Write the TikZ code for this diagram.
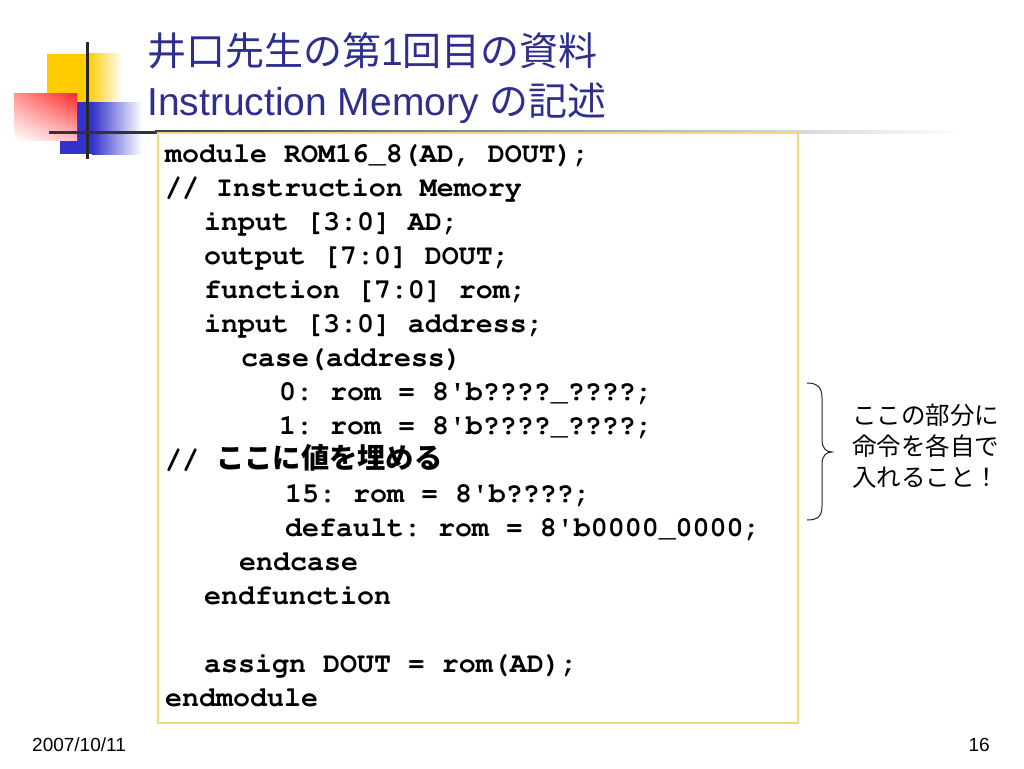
\documentclass[tikz,border=0pt]{standalone}
\usepackage[T1]{fontenc}
\usepackage{fontspec}
\usetikzlibrary{shadings}
\setmainfont{Liberation Sans}
\newfontfamily\jp{Noto Sans CJK JP}
\newcommand\codefont{\fontencoding{T1}\fontfamily{pcr}\fontseries{b}\fontshape{n}\fontsize{28.3}{34}\selectfont\frenchspacing}
\definecolor{titleblue}{RGB}{46,46,143}
\definecolor{decoyellow}{RGB}{255,204,0}
\definecolor{decoblue}{RGB}{51,51,204}
\definecolor{decored}{RGB}{255,40,40}
\definecolor{boxgold}{RGB}{240,218,125}
\tikzset{
  codeline/.style={anchor=base west, inner sep=0pt, font=\codefont},
  titleline/.style={anchor=base west, inner sep=0pt, text=titleblue, font=\fontsize{39}{47}\selectfont},
  noteline/.style={anchor=base west, inner sep=0pt, font=\jp\fontsize{24.5}{31}\selectfont},
  footer/.style={inner sep=0pt, font=\fontsize{19}{22}\selectfont}
}
\begin{document}
\begin{tikzpicture}[x=1pt,y=-1pt]
\useasboundingbox (0,0) rectangle (1024,768);
\fill[white] (0,0) rectangle (1024,768);
% decoration
\fill[decoyellow] (47,54) rectangle (88,102);
\shade[left color=decoyellow, right color=white] (88,54) rectangle (122,102);
\fill[decoblue] (60,102) rectangle (92,154);
\shade[left color=decoblue, right color=white] (92,102) rectangle (142,154);
\shade[upper left=decored!50!white, upper right=decored, lower left=white, lower right=decored!30!white] (14,93) rectangle (77,140);
\fill[black!85] (85.5,42) rectangle (88.5,159);
\fill[black!80] (49,130.5) rectangle (155,133.5);
\shade[left color=black!75, right color=white] (155,130.5) rectangle (965,133.5);
% title
\node[titleline] (t1) at (147,66) {{\jp 井口先生の第}1{\jp 回目の資料}};
\node[titleline] (t2) at (147,115) {Instruction Memory {\jp の記述}};
% code box
\node (box) [draw=boxgold, line width=2pt, fill=white, minimum width=640pt, minimum height=590pt, inner sep=0pt, anchor=north west] at (157,132) {};
\node[codeline] (l1) at (165,162) {module ROM16\_8(AD, DOUT);};
\node[codeline] (l2) at (165,196) {// Instruction Memory};
\node[codeline] (l3) at (204,230) {input [3:0] AD;};
\node[codeline] (l4) at (204,264) {output [7:0] DOUT;};
\node[codeline] (l5) at (204,298) {function [7:0] rom;};
\node[codeline] (l6) at (204,332) {input [3:0] address;};
\node[codeline] (l7) at (241,366) {case(address)};
\node[codeline] (l8) at (279,400) {0: rom = 8\textquotesingle b????\_????;};
\node[codeline] (l9) at (279,434) {1: rom = 8\textquotesingle b????\_????;};
\node[codeline] (l10) at (165,468) {// {\jp\bfseries ここに値を埋める}};
\node[codeline] (l11) at (285,502) {15: rom = 8\textquotesingle b????;};
\node[codeline] (l12) at (285,536) {default: rom = 8\textquotesingle b0000\_0000;};
\node[codeline] (l13) at (239,570) {endcase};
\node[codeline] (l14) at (204,604) {endfunction};
\node[codeline] (l16) at (204,672) {assign DOUT = rom(AD);};
\node[codeline] (l17) at (165,706) {endmodule};
% brace and note
\draw[line width=1pt, black!85] (807,383) .. controls (818,383) and (822,388) .. (822,398) -- (822,440) .. controls (822,448) and (826,452) .. (832,452) .. controls (826,452) and (822,456) .. (822,464) -- (822,506) .. controls (822,516) and (818,520) .. (807,520);
\node[noteline] (n1) at (852,424) {ここの部分に};
\node[noteline] (n2) at (852,455) {命令を各自で};
\node[noteline] (n3) at (852,486) {入れること！};
% footer
\node[footer, anchor=base west] (date) at (32,751) {2007/10/11};
\node[footer, anchor=base east] (page) at (990,751) {16};
\end{tikzpicture}
\end{document}
